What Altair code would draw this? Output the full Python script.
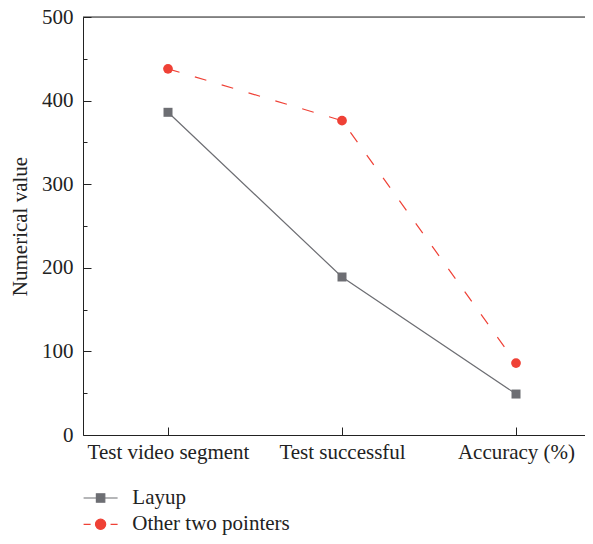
import altair as alt
import pandas as pd

categories = ["Test video segment", "Test successful", "Accuracy (%)"]
series = ["Layup", "Other two pointers"]
layup = [386, 189, 49]
other = [438, 376, 86]
colors = ["#6d6e73", "#ef4136"]
y_ticks = [0, 50, 100, 150, 200, 250, 300, 350, 400, 450, 500]

rows = []
for i, c in enumerate(categories):
    rows.append({"category": c, "series": series[0], "value": layup[i]})
    rows.append({"category": c, "series": series[1], "value": other[i]})
df = pd.DataFrame(rows)

FONT = "Liberation Serif"
FS = 21
AX = "#222222"
TXT = "#222222"

x = alt.X(
    "category:N",
    sort=categories,
    scale=alt.Scale(type="point", padding=0.4425, align=0.552),
    axis=alt.Axis(
        title=None, labelAngle=0, grid=False, domainColor=AX, tickColor=AX,
        tickSize={"expr": "-8"}, labelPadding=14, labelFont=FONT,
        labelFontSize=FS, labelColor=TXT,
    ),
)
y = alt.Y(
    "value:Q",
    scale=alt.Scale(domain=[0, 500], nice=False),
    axis=alt.Axis(
        values=y_ticks, grid=False, domainColor=AX, tickColor=AX,
        labelExpr="datum.value % 100 === 0 ? datum.label : ''",
        tickSize={"condition": {"test": "datum.value % 100 === 0", "value": -8}, "value": -4},
        labelPadding=18, labelFont=FONT, labelFontSize=FS, labelColor=TXT,
        title="Numerical value", titleFont=FONT, titleFontSize=FS,
        titleFontWeight="normal", titleColor=TXT, titlePadding=11,
    ),
)

# legend glyphs: line with marker (square / dashed with circle)
PATH_SQ = "M-1.5,0H1.5M-0.37,-0.37H0.37V0.37H-0.37Z"
PATH_CI = "M-1.5,0H-0.88M0.88,0H1.5M-0.45,0A0.45,0.45,0,1,1,0.45,0A0.45,0.45,0,1,1,-0.45,0Z"

legend = alt.Legend(
    title=None, orient="none", legendX=5.6, legendY=469, direction="vertical",
    labelFont=FONT, labelFontSize=FS, labelColor=TXT, symbolSize=514,
    rowPadding=4.3, padding=0, labelOffset=19.7, symbolStrokeWidth=1.2,
    symbolOpacity=1,
)

top = alt.Chart(alt.Data(values=[{}])).mark_rule(color=AX, strokeWidth=1).encode(y=alt.datum(500))

line_layup = alt.Chart(df).transform_filter(alt.datum.series == series[0]).mark_line(
    color=colors[0], strokeWidth=1.2).encode(x=x, y=y)
line_other = alt.Chart(df).transform_filter(alt.datum.series == series[1]).mark_line(
    color=colors[1], strokeWidth=1.2, strokeDash=[12, 16]).encode(x=x, y=y)
pts_layup = alt.Chart(df).transform_filter(alt.datum.series == series[0]).mark_point(
    shape="square", filled=True, size=81, opacity=1, color=colors[0]).encode(x=x, y=y)
pts_other = alt.Chart(df).transform_filter(alt.datum.series == series[1]).mark_point(
    shape="circle", filled=True, size=95, opacity=1, color=colors[1]).encode(x=x, y=y)

legend_layer = alt.Chart(df).transform_filter("false").mark_point(
    filled=True, opacity=1, strokeWidth=1.2).encode(
    x=x, y=y,
    color=alt.Color("series:N", scale=alt.Scale(domain=series, range=colors), legend=legend),
    stroke=alt.Stroke("series:N", scale=alt.Scale(domain=series, range=colors), legend=legend),
    shape=alt.Shape("series:N", scale=alt.Scale(domain=series, range=[PATH_SQ, PATH_CI]), legend=legend),
)

chart = alt.layer(top, line_layup, line_other, pts_layup, pts_other, legend_layer).properties(
    width=502, height=418,
    padding={"left": 75, "top": 9, "right": 0, "bottom": 100},
    autosize=alt.AutoSizeParams(type="none"),
).configure_view(stroke=None).configure(font=FONT)

chart.save("out.html", embed_options={"renderer": "svg", "actions": False})
